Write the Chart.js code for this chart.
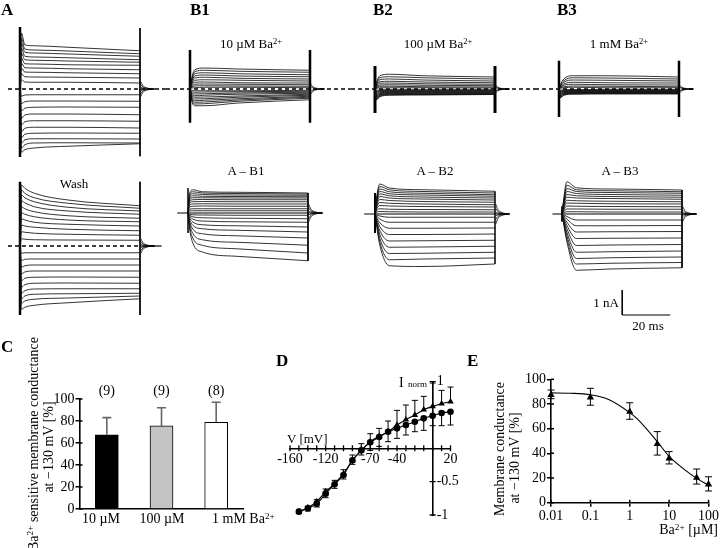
<!DOCTYPE html>
<html><head><meta charset="utf-8">
<script src="https://cdn.jsdelivr.net/npm/chart.js@4.4.1/dist/chart.umd.min.js"></script>
<style>
html,body{margin:0;padding:0;background:#fff;}
#fig{position:relative;width:720px;height:548px;overflow:hidden;background:#fff;font-family:'Liberation Serif','Times New Roman',serif;color:#000;}
#fig canvas{position:absolute;}
.t{position:absolute;white-space:nowrap;line-height:1;}
.sup{font-size:0.66em;position:relative;top:-0.5em;}
</style></head><body><div id="fig"></div>
<script>
// ---------------- DATA ----------------
// sample times (ms after pulse onset) at which each current trace is read
const T_PTS = [0.6, 2, 6, 20, 50];
const PULSE_END = 50;
const T_TAIL = [50.3, 51.2, 52.8, 56];
const TAIL_DECAY = [1, 0.45, 0.15, 0];

// currents in nA, one row per trace, columns = T_PTS
const A_TRACES = [
 [2.24,1.77,1.73,1.67,1.53],[2.04,1.6,1.56,1.52,1.41],[1.84,1.47,1.44,1.4,1.31],[1.64,1.31,1.28,1.25,1.17],
 [1.44,1.17,1.15,1.12,1.07],[1.24,1.01,1.0,0.97,0.95],[1.04,0.85,0.84,0.81,0.77],[0.84,0.68,0.67,0.65,0.61],
 [0.61,0.49,0.48,0.47,0.44],[0.37,0.28,0.27,0.27,0.24],
 [-0.29,-0.24,-0.23,-0.23,-0.23],[-0.59,-0.51,-0.48,-0.48,-0.49],[-0.88,-0.77,-0.73,-0.72,-0.73],
 [-1.17,-1.04,-1.0,-1.0,-1.03],[-1.44,-1.31,-1.27,-1.27,-1.29],[-1.71,-1.57,-1.53,-1.53,-1.56],
 [-1.95,-1.81,-1.77,-1.76,-1.77],[-2.16,-2.03,-1.99,-1.99,-2.0],[-2.36,-2.23,-2.16,-2.15,-2.16],
 [-2.53,-2.43,-2.36,-2.29,-2.19]];
const WASH_TRACES = [
 [2.44,2.31,2.11,1.84,1.61],[2.24,2.11,1.93,1.71,1.51],[2.04,1.93,1.77,1.55,1.4],[1.81,1.73,1.57,1.4,1.27],
 [1.57,1.49,1.37,1.21,1.11],[1.33,1.27,1.17,1.04,0.97],[1.09,1.04,0.95,0.87,0.8],[0.84,0.8,0.75,0.67,0.61],
 [0.57,0.55,0.51,0.47,0.43],[0.29,0.27,0.25,0.24,0.23],
 [-0.29,-0.27,-0.27,-0.27,-0.27],[-0.59,-0.53,-0.52,-0.52,-0.52],[-0.85,-0.79,-0.76,-0.76,-0.76],
 [-1.12,-1.04,-1.0,-1.0,-1.0],[-1.39,-1.29,-1.25,-1.24,-1.25],[-1.65,-1.55,-1.49,-1.48,-1.49],
 [-1.89,-1.79,-1.72,-1.71,-1.71],[-2.11,-2.0,-1.93,-1.91,-1.89],[-2.29,-2.2,-2.13,-2.08,-2.0],
 [-2.53,-2.45,-2.37,-2.27,-2.11]];
const B1_TRACES = [
 [0.37,0.77,0.84,0.8,0.75],[0.33,0.69,0.75,0.71,0.67],[0.29,0.61,0.65,0.61,0.57],[0.25,0.52,0.56,0.52,0.49],
 [0.21,0.44,0.47,0.43,0.4],[0.17,0.35,0.37,0.35,0.32],[0.13,0.27,0.28,0.25,0.24],[0.09,0.19,0.2,0.19,0.17],
 [0.07,0.12,0.13,0.12,0.11],[0.04,0.05,0.07,0.07,0.05],
 [-0.05,-0.07,-0.07,-0.07,-0.05],[-0.11,-0.13,-0.12,-0.11,-0.09],[-0.15,-0.2,-0.19,-0.16,-0.13],
 [-0.19,-0.27,-0.25,-0.21,-0.17],[-0.23,-0.33,-0.32,-0.28,-0.21],[-0.27,-0.4,-0.39,-0.33,-0.25],
 [-0.31,-0.47,-0.45,-0.39,-0.29],[-0.35,-0.53,-0.52,-0.44,-0.33],[-0.39,-0.6,-0.59,-0.49,-0.37],
 [-0.43,-0.67,-0.67,-0.56,-0.43]];
const B2_TRACES = [
 [0.24,0.53,0.59,0.53,0.48],[0.2,0.45,0.49,0.45,0.4],[0.16,0.37,0.4,0.36,0.32],[0.12,0.29,0.31,0.28,0.25],
 [0.09,0.23,0.24,0.21,0.19],[0.07,0.16,0.17,0.15,0.13],[0.04,0.11,0.11,0.09,0.08],[0.03,0.05,0.05,0.05,0.04],
 [-0.06,-0.03,-0.03,-0.03,-0.03],[-0.1,-0.06,-0.05,-0.05,-0.05],[-0.14,-0.08,-0.07,-0.07,-0.07],
 [-0.18,-0.11,-0.09,-0.09,-0.09],[-0.22,-0.14,-0.11,-0.11,-0.11],[-0.26,-0.17,-0.13,-0.13,-0.13],
 [-0.29,-0.19,-0.15,-0.15,-0.15],[-0.32,-0.22,-0.17,-0.17,-0.17],[-0.35,-0.24,-0.19,-0.19,-0.19],
 [-0.38,-0.26,-0.21,-0.21,-0.2],[-0.41,-0.29,-0.23,-0.22,-0.21],[-0.44,-0.31,-0.25,-0.24,-0.22]];
const B3_TRACES = [
 [0.17,0.4,0.53,0.53,0.48],[0.15,0.33,0.45,0.44,0.4],[0.12,0.27,0.36,0.35,0.32],[0.09,0.2,0.27,0.25,0.24],
 [0.07,0.15,0.19,0.17,0.16],[0.05,0.09,0.12,0.11,0.09],[0.03,0.05,0.07,0.05,0.05],
 [-0.05,-0.03,-0.03,-0.03,-0.03],[-0.08,-0.05,-0.04,-0.04,-0.04],[-0.11,-0.07,-0.06,-0.06,-0.06],
 [-0.14,-0.09,-0.08,-0.08,-0.08],[-0.17,-0.11,-0.09,-0.09,-0.09],[-0.2,-0.13,-0.11,-0.11,-0.11],
 [-0.23,-0.15,-0.13,-0.12,-0.12],[-0.26,-0.17,-0.14,-0.14,-0.14],[-0.29,-0.19,-0.16,-0.15,-0.15],
 [-0.31,-0.21,-0.17,-0.17,-0.17],[-0.34,-0.23,-0.19,-0.18,-0.18],[-0.36,-0.25,-0.21,-0.2,-0.2]];
const AB1_TRACES = [
 [0.75,0.93,0.85,0.83,0.8],[0.7,0.85,0.8,0.78,0.76],[0.64,0.77,0.74,0.72,0.71],[0.58,0.69,0.67,0.66,0.65],
 [0.52,0.61,0.61,0.6,0.6],[0.46,0.53,0.54,0.53,0.53],[0.4,0.45,0.46,0.45,0.45],[0.32,0.36,0.37,0.36,0.36],
 [0.24,0.27,0.28,0.27,0.27],[0.15,0.17,0.17,0.17,0.17],[0.08,0.09,0.09,0.09,0.09],
 [-0.04,-0.07,-0.08,-0.09,-0.09],[-0.08,-0.15,-0.19,-0.21,-0.23],[-0.12,-0.24,-0.32,-0.35,-0.37],
 [-0.18,-0.36,-0.47,-0.51,-0.56],[-0.25,-0.49,-0.63,-0.69,-0.76],[-0.32,-0.64,-0.83,-0.91,-1.0],
 [-0.4,-0.81,-1.07,-1.17,-1.29],[-0.5,-1.0,-1.29,-1.43,-1.6],[-0.6,-1.2,-1.56,-1.73,-1.91]];
const AB2_TRACES = [
 [0.6,1.2,1.04,0.97,0.91],[0.55,1.1,0.97,0.9,0.84],[0.5,1.0,0.89,0.83,0.77],[0.45,0.9,0.81,0.76,0.71],
 [0.4,0.8,0.73,0.68,0.64],[0.35,0.7,0.64,0.6,0.56],[0.3,0.58,0.54,0.5,0.47],[0.24,0.46,0.43,0.4,0.37],
 [0.18,0.34,0.32,0.3,0.28],[0.12,0.21,0.19,0.18,0.17],[0.06,0.1,0.09,0.08,0.08],
 [-0.03,-0.08,-0.13,-0.13,-0.13],[-0.07,-0.2,-0.33,-0.33,-0.33],[-0.12,-0.35,-0.57,-0.57,-0.56],
 [-0.17,-0.5,-0.82,-0.82,-0.8],[-0.22,-0.66,-1.08,-1.07,-1.05],[-0.27,-0.82,-1.33,-1.32,-1.29],
 [-0.32,-0.97,-1.58,-1.57,-1.53],[-0.37,-1.12,-1.83,-1.8,-1.76],[-0.42,-1.25,-2.07,-2.1,-2.0]];
const AB3_TRACES = [
 [0.5,1.29,1.05,1.0,0.96],[0.45,1.15,0.97,0.93,0.89],[0.4,1.02,0.9,0.86,0.83],[0.36,0.9,0.82,0.78,0.75],
 [0.32,0.78,0.73,0.7,0.67],[0.28,0.67,0.64,0.62,0.59],[0.23,0.55,0.53,0.51,0.49],[0.18,0.44,0.43,0.41,0.4],
 [0.13,0.32,0.31,0.3,0.29],[0.08,0.2,0.2,0.19,0.19],[0.04,0.09,0.09,0.08,0.08],
 [-0.03,-0.1,-0.24,-0.24,-0.24],[-0.06,-0.2,-0.47,-0.47,-0.46],[-0.1,-0.32,-0.72,-0.71,-0.7],
 [-0.14,-0.45,-0.98,-0.97,-0.96],[-0.18,-0.58,-1.26,-1.24,-1.22],[-0.22,-0.72,-1.53,-1.51,-1.48],
 [-0.26,-0.85,-1.78,-1.75,-1.72],[-0.3,-0.98,-2.0,-1.97,-1.94],[-0.34,-1.1,-2.25,-2.2,-2.15]];

// capacitive transients [top, bottom] nA at onset / offset
const A_SPIKE = [[2.48,-2.72],[2.44,-2.69]];
const B1_SPIKE = [[1.56,-1.35],[1.56,-1.35]];
const B2_SPIKE = [[0.92,-0.96],[0.92,-0.96]];
const B3_SPIKE = [[1.13,-1.12],[1.13,-1.12]];
const WASH_SPIKE = [[2.57,-2.76],[2.57,-2.76]];
const AB1_SPIKE = [[1.0,-0.8],[0.8,-1.91]];
const AB2_SPIKE = [[0.84,-0.76],[0.91,-2.0]];
const AB3_SPIKE = [[0.3,-0.3],[0.96,-2.15]];
// tail current amplitudes (nA) just after the pulse
const A_TAIL = [0.3,0.18,0.08,-0.08,-0.18,-0.3];
const WASH_TAIL = [0.3,0.18,0.08,-0.08,-0.18,-0.3];
const B1_TAIL = [0.2,0.1,-0.1,-0.2];
const B2_TAIL = [0.15,0.07,-0.07,-0.15];
const B3_TAIL = [0.15,0.07,-0.07,-0.15];
const AB1_TAIL = [0.35,0.2,0.08,-0.08,-0.2,-0.35];
const AB2_TAIL = [0.4,0.22,0.08,-0.08,-0.22,-0.4];
const AB3_TAIL = [0.3,0.15,0.05,-0.05,-0.15,-0.3];
const SCALEBAR_NA = 1, SCALEBAR_MS = 20;

// Panel C
const C_CATEGORIES = ['10 µM','100 µM','1 mM Ba<span class="sup">2+</span>'];
const C_VALUES = [67.4, 75.5, 78.9];
const C_ERR = [15.7, 16.6, 18.1];
const C_N = ['(9)','(9)','(8)'];
const C_YTICKS = [0,20,40,60,80,100];

// Panel D
const D_V = [-150,-140,-130,-120,-110,-100,-90,-80,-70,-60,-50,-40,-30,-20,-10,0,10,20];
const D_TRI = [-0.95,-0.89,-0.8,-0.65,-0.53,-0.38,-0.18,-0.03,0.1,0.18,0.25,0.35,0.43,0.5,0.58,0.63,0.67,0.7];
const D_TRI_ERR = [0.02,0.02,0.03,0.04,0.05,0.06,0.08,0.1,0.12,0.12,0.16,0.22,0.22,0.22,0.2,0.35,0.2,0.22];
const D_CIRC = [-0.95,-0.9,-0.83,-0.68,-0.54,-0.4,-0.18,-0.03,0.09,0.17,0.25,0.3,0.35,0.4,0.45,0.49,0.53,0.55];
const D_CIRC_ERR = [0.03,0.04,0.05,0.06,0.06,0.06,0.06,0.07,0.12,0.14,0.15,0.15,0.15,0.15,0.18,0.15,0.19,0.2];
const D_XTICKS = [-160,-150,-140,-130,-120,-110,-100,-90,-80,-70,-60,-50,-40,-30,-20,-10,0,10,20];
const D_XLABELS = [-160,-120,-70,-40,20];
const D_YTICKS = [-1,-0.5,0.5,1];
const D_YLABELS = [1,-0.5,-1];

// Panel E
const E_X = [0.01,0.1,1,5,10,50,100];
const E_Y = [87.3,85.4,73.8,47.6,36,20.3,14.9];
const E_ERR_UP = [4,7.3,7.2,10,5.4,7,6.1];
const E_ERR_DN = [3,6.4,6.2,9,4.6,5.2,5.4];
const E_FIT_X = [0.01,0.03,0.1,0.3,1,1.6,5,10,22,50,100];
const E_FIT_Y = [89,88.7,87.5,83.5,73,67.5,49.5,37.5,28,19.7,14.3];
const E_XTICKS = [0.01,0.1,1,10,100];
const E_YTICKS = [0,20,40,60,80,100];

// ---------------- SETUP ----------------
const fig = document.getElementById('fig');
Chart.defaults.font.family = "'Liberation Serif','Times New Roman',serif";
Chart.defaults.font.size = 14;
Chart.defaults.color = '#000';
const SERIF = "'Liberation Serif','Times New Roman',serif";

function mkCanvas(l,t,w,h){
  const c=document.createElement('canvas'); c.width=w; c.height=h;
  Object.assign(c.style,{left:l+'px',top:t+'px',width:w+'px',height:h+'px'});
  fig.appendChild(c); return c;
}
function txt(html,x,baseline,size,opt){
  opt=opt||{};
  const d=document.createElement('div'); d.className='t'; d.innerHTML=html;
  d.style.fontSize=size+'px'; if(opt.bold) d.style.fontWeight='bold';
  d.style.left=x+'px'; d.style.top=(baseline-0.8375*size)+'px';
  const tx=opt.align==='center'?'-50%':opt.align==='right'?'-100%':'0';
  d.style.transform='translateX('+tx+')';
  fig.appendChild(d);
}
function vtxt(html,cx,cy,size){
  const d=document.createElement('div'); d.className='t'; d.innerHTML=html;
  d.style.fontSize=size+'px'; d.style.left=cx+'px'; d.style.top=cy+'px';
  d.style.transform='translate(-50%,-50%) rotate(-90deg)';
  fig.appendChild(d);
}
const baseOpts = ()=>({responsive:false,animation:false,devicePixelRatio:1,events:[]});

// ---------------- TRACE PANELS ----------------
const PX_PER_MS = 2.4, PX_PER_NA = 25, T_MIN = -10, T_MAX = 70;
function traceChart(o){
  const w=Math.round((T_MAX-T_MIN)*PX_PER_MS), h=Math.round((o.ymax-o.ymin)*PX_PER_NA);
  const c=mkCanvas(Math.round(o.onset+T_MIN*PX_PER_MS), Math.round(o.base-o.ymax*PX_PER_NA), w, h);
  const ds=[];
  const add=(pts,extra)=>ds.push(Object.assign({data:pts,borderColor:'#111',borderWidth:0.85,pointRadius:0,tension:0,fill:false,clip:false},extra||{}));
  const smooth={cubicInterpolationMode:'monotone'};
  (o.dash||[]).forEach(s=>add([{x:s[0],y:0},{x:s[1],y:0}],{borderDash:[4,3],borderWidth:1.3,borderColor:'#000'}));
  (o.solid||[]).forEach(s=>add([{x:s[0],y:0},{x:s[1],y:0}],{borderWidth:1.2,borderColor:'#000'}));
  o.rows.forEach(r=>add([{x:0,y:0}].concat(T_PTS.map((t,i)=>({x:t,y:r[i]}))),smooth));
  o.tail.forEach(a=>add(T_TAIL.map((t,j)=>({x:t,y:a*TAIL_DECAY[j]})),smooth));
  add([{x:0,y:o.spike[0][0]},{x:0,y:o.spike[0][1]}],{borderWidth:o.onW,borderColor:'#000'});
  add([{x:PULSE_END,y:o.spike[1][0]},{x:PULSE_END,y:o.spike[1][1]}],{borderWidth:o.offW,borderColor:'#000'});
  (o.extra||[]).forEach(e=>add(e.pts,e.style));
  new Chart(c,{type:'line',data:{datasets:ds},options:Object.assign(baseOpts(),{
    layout:{padding:0},plugins:{legend:{display:false},tooltip:{enabled:false}},
    scales:{x:{type:'linear',min:T_MIN,max:T_MAX,display:false},y:{type:'linear',min:o.ymin,max:o.ymax,display:false}}})});
}
const TOP = {ymin:-3.2,ymax:3.2}, AB = {ymin:-4.6,ymax:3.2};
traceChart(Object.assign({onset:20,base:89,rows:A_TRACES,spike:A_SPIKE,tail:A_TAIL,onW:2.5,offW:1,dash:[[-5,60.8]]},TOP));
traceChart(Object.assign({onset:190,base:89,rows:B1_TRACES,spike:B1_SPIKE,tail:B1_TAIL,onW:2.5,offW:2.5,dash:[[-10,67]]},TOP));
traceChart(Object.assign({onset:375,base:89,rows:B2_TRACES,spike:B2_SPIKE,tail:B2_TAIL,onW:3,offW:3,dash:[[-10,66.7]]},TOP));
traceChart(Object.assign({onset:559,base:89,rows:B3_TRACES,spike:B3_SPIKE,tail:B3_TAIL,onW:2.5,offW:2.5,dash:[[-10,56]]},TOP));
traceChart(Object.assign({onset:20,base:246,rows:WASH_TRACES,spike:WASH_SPIKE,tail:WASH_TAIL,onW:2.5,offW:1,dash:[[-5,50]],solid:[[50,59]]},TOP));
traceChart(Object.assign({onset:188,base:213,rows:AB1_TRACES,spike:AB1_SPIKE,tail:AB1_TAIL,onW:1.5,offW:1,solid:[[-4.5,56]]},AB));
traceChart(Object.assign({onset:375,base:214,rows:AB2_TRACES,spike:AB2_SPIKE,tail:AB2_TAIL,onW:2,offW:1.5,solid:[[-4.5,56]]},AB));
const SB_T = 25.1, SB_I = -4.04; // scale-bar corner position in A–B3 coordinates
traceChart(Object.assign({onset:562,base:214,rows:AB3_TRACES,spike:AB3_SPIKE,tail:AB3_TAIL,onW:1,offW:1,solid:[[-4,56]],
  extra:[{pts:[{x:SB_T,y:SB_I+SCALEBAR_NA},{x:SB_T,y:SB_I},{x:SB_T+SCALEBAR_MS,y:SB_I}],style:{borderWidth:1,borderColor:'#000'}}]},AB));

// ---------------- PLUGINS ----------------
const errorBarPlugin={id:'errbars',afterDatasetsDraw(chart,args,opts){
  const ctx=chart.ctx, ys=chart.scales.y;
  (opts.sets||[]).forEach(s=>{
    const meta=chart.getDatasetMeta(s.index), data=chart.data.datasets[s.index].data;
    ctx.save(); ctx.strokeStyle=s.color; ctx.lineWidth=s.width; ctx.beginPath();
    meta.data.forEach((el,i)=>{
      const v=typeof data[i]==='object'?data[i].y:data[i];
      const up=s.up?s.up[i]:0, dn=s.down?s.down[i]:0, x=el.x;
      const y1=ys.getPixelForValue(v+up), y2=ys.getPixelForValue(v-dn);
      ctx.moveTo(x,y1); ctx.lineTo(x,y2);
      if(up>0){ctx.moveTo(x-s.cap,y1);ctx.lineTo(x+s.cap,y1);}
      if(dn>0){ctx.moveTo(x-s.cap,y2);ctx.lineTo(x+s.cap,y2);}
    });
    ctx.stroke(); ctx.restore();
  });
}};
const tickMarkPlugin={id:'tickmarks',afterDraw(chart,args,opts){
  const ctx=chart.ctx;
  (opts.axes||[]).forEach(a=>{
    const s=chart.scales[a.scale], at=a.at(chart);
    ctx.save(); ctx.strokeStyle='#000'; ctx.lineWidth=a.width; ctx.beginPath();
    a.values.forEach(v=>{
      const p=s.getPixelForValue(v);
      if(s.isHorizontal()){ctx.moveTo(p,at-a.before);ctx.lineTo(p,at+a.after);}
      else{ctx.moveTo(at-a.before,p);ctx.lineTo(at+a.after,p);}
    });
    ctx.stroke(); ctx.restore();
  });
}};
const axisLabelPlugin={id:'axlabels',afterDraw(chart,args,opts){
  const ctx=chart.ctx, xs=chart.scales.x, ys=chart.scales.y;
  ctx.save(); ctx.font=opts.font; ctx.fillStyle='#000'; ctx.textBaseline='middle';
  const x0=xs.getPixelForValue(0), y0=ys.getPixelForValue(0);
  ctx.textAlign='center';
  opts.x.forEach(v=>ctx.fillText(String(v),xs.getPixelForValue(v),y0+opts.xOff));
  ctx.textAlign='left';
  opts.y.forEach(v=>ctx.fillText(String(v),x0+opts.yOff,ys.getPixelForValue(v)));
  ctx.restore();
}};

// ---------------- PANEL C ----------------
(function(){
  const c=mkCanvas(30,380,230,160);
  new Chart(c,{type:'bar',
    data:{labels:C_CATEGORIES,datasets:[{data:C_VALUES,backgroundColor:['#000','#c4c4c4','#fff'],borderColor:'#000',borderWidth:1,barThickness:23}]},
    options:Object.assign(baseOpts(),{
      layout:{padding:{top:19,right:16.5,left:0,bottom:0}},
      plugins:{legend:{display:false},tooltip:{enabled:false},
        errbars:{sets:[{index:0,up:C_ERR,color:'#666',width:1.6,cap:4.5}]},
        tickmarks:{axes:[{scale:'y',values:C_YTICKS,at:ch=>ch.chartArea.left,before:0,after:3,width:1.5}]}},
      scales:{
        x:{offset:true,grid:{display:false},border:{display:true,color:'#000',width:1.6},ticks:{display:false},afterFit(s){s.height=31;}},
        y:{min:0,max:100,afterBuildTicks(s){s.ticks=C_YTICKS.map(v=>({value:v}));},
           ticks:{font:{size:14},color:'#000',padding:1},
           grid:{drawOnChartArea:false,color:'#000',tickLength:4,lineWidth:1.5},
           border:{display:true,color:'#000',width:1.6},afterFit(s){s.width=49.5;}}
      }}),
    plugins:[errorBarPlugin,tickMarkPlugin]});
  const centers=[106.8,161.5,216.2];
  C_N.forEach((n,i)=>txt(n,centers[i],396,14,{align:'center'}));
  txt(C_CATEGORIES[0],101,524,14,{align:'center'});
  txt(C_CATEGORIES[1],162,524,14,{align:'center'});
  txt(C_CATEGORIES[2],212,524,14);
  vtxt('Ba<span class="sup">2+</span> sensitive membrane conductance',34,444,14);
  vtxt('at \u2212130 mV [%]',49,447,14);
})();

// ---------------- PANEL D ----------------
(function(){
  const c=mkCanvas(270,360,200,170);
  const pts=(ys)=>D_V.map((v,i)=>({x:v,y:ys[i]}));
  new Chart(c,{type:'line',
    data:{datasets:[
      {data:pts(D_TRI),pointStyle:'triangle',pointRadius:3.8,pointBorderWidth:0,pointBackgroundColor:'#000',borderColor:'#000',borderWidth:1.1,cubicInterpolationMode:'monotone',fill:false,clip:false},
      {data:pts(D_CIRC),pointStyle:'circle',pointRadius:3.3,pointBorderWidth:0,pointBackgroundColor:'#000',borderColor:'#000',borderWidth:1.1,cubicInterpolationMode:'monotone',fill:false,clip:false}]},
    options:Object.assign(baseOpts(),{
      layout:{padding:{left:20,right:19.5,top:21.7,bottom:15}},
      plugins:{legend:{display:false},tooltip:{enabled:false},
        errbars:{sets:[{index:0,up:D_TRI_ERR,color:'#000',width:1,cap:3},{index:1,down:D_CIRC_ERR,color:'#000',width:1,cap:3}]},
        tickmarks:{axes:[
          {scale:'x',values:D_XTICKS,at:ch=>ch.scales.y.getPixelForValue(0),before:3,after:3,width:1.3},
          {scale:'y',values:D_YTICKS,at:ch=>ch.scales.x.getPixelForValue(0),before:3,after:3,width:1.3}]},
        axlabels:{font:'14px '+SERIF,x:D_XLABELS,y:D_YLABELS,xOff:11,yOff:4}},
      scales:{
        x:{type:'linear',min:-160,max:20,position:{y:0},grid:{display:false},ticks:{display:false},border:{display:true,color:'#000',width:1.6},afterFit(s){s.height=0;}},
        y:{type:'linear',min:-1,max:1,position:{x:0},grid:{display:false},ticks:{display:false},border:{display:true,color:'#000',width:1.6},afterFit(s){s.width=0;}}
      }}),
    plugins:[errorBarPlugin,tickMarkPlugin,axisLabelPlugin]});
  txt('V [mV]',287,443,13);
  txt('I',399,388,14);
  txt('norm',408,388,9);
})();

// ---------------- PANEL E ----------------
(function(){
  const c=mkCanvas(480,365,240,180);
  new Chart(c,{type:'line',
    data:{datasets:[
      {data:E_X.map((x,i)=>({x:x,y:E_Y[i]})),showLine:false,pointStyle:'triangle',pointRadius:4.2,pointBorderWidth:0,pointBackgroundColor:'#000',clip:false},
      {data:E_FIT_X.map((x,i)=>({x:x,y:E_FIT_Y[i]})),pointRadius:0,borderColor:'#000',borderWidth:1.1,cubicInterpolationMode:'monotone',fill:false,clip:false}]},
    options:Object.assign(baseOpts(),{
      layout:{padding:{top:14.3,right:10.7,left:0,bottom:0}},
      plugins:{legend:{display:false},tooltip:{enabled:false},
        errbars:{sets:[{index:0,up:E_ERR_UP,down:E_ERR_DN,color:'#000',width:1,cap:3.5}]},
        tickmarks:{axes:[
          {scale:'y',values:E_YTICKS,at:ch=>ch.chartArea.left,before:0,after:3,width:1.5},
          {scale:'x',values:E_XTICKS,at:ch=>ch.chartArea.bottom,before:3,after:0,width:1.5}]}},
      scales:{
        x:{type:'logarithmic',min:0.01,max:100,afterBuildTicks(s){s.ticks=E_XTICKS.map(v=>({value:v}));},
           ticks:{callback:v=>String(v),font:{size:14},color:'#000',padding:1,maxRotation:0,autoSkip:false},
           grid:{drawOnChartArea:false,color:'#000',tickLength:4,lineWidth:1.5},
           border:{display:true,color:'#000',width:1.6},afterFit(s){s.height=42.3;}},
        y:{min:0,max:100,afterBuildTicks(s){s.ticks=E_YTICKS.map(v=>({value:v}));},
           ticks:{font:{size:14},color:'#000',padding:1},
           grid:{drawOnChartArea:false,color:'#000',tickLength:4,lineWidth:1.5},
           border:{display:true,color:'#000',width:1.6},afterFit(s){s.width=71;}}
      }}),
    plugins:[errorBarPlugin,tickMarkPlugin]});
  vtxt('Membrane conductance',500,449,14);
  vtxt('at \u2212130 mV [%]',515,458,14);
  txt('Ba<span class="sup">2+</span> [µM]',718,535,14,{align:'right'});
})();

// ---------------- TEXT LABELS ----------------
txt('A',1,15,17,{bold:true});
txt('B1',190,15,17,{bold:true});
txt('B2',373,15,17,{bold:true});
txt('B3',557,15,17,{bold:true});
txt('C',1,352,17,{bold:true});
txt('D',276,366,17,{bold:true});
txt('E',467,366,17,{bold:true});
txt('10 µM Ba<span class="sup">2+</span>',251,48,13,{align:'center'});
txt('100 µM Ba<span class="sup">2+</span>',438,48,13,{align:'center'});
txt('1 mM Ba<span class="sup">2+</span>',619,48,13,{align:'center'});
txt('Wash',74,188,13,{align:'center'});
txt('A \u2013 B1',246,175,13,{align:'center'});
txt('A \u2013 B2',435,175,13,{align:'center'});
txt('A \u2013 B3',620,175,13,{align:'center'});
txt('1 nA',619,307,13,{align:'right'});
txt('20 ms',648,330,13,{align:'center'});
</script></body></html>
